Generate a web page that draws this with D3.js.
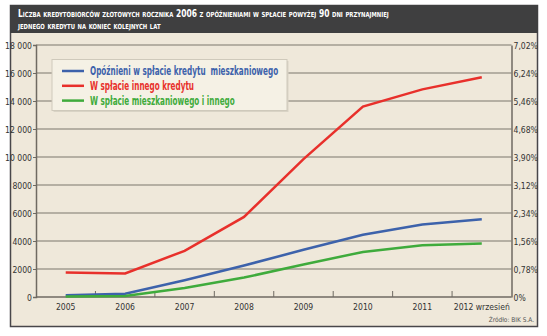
<!DOCTYPE html>
<html>
<head>
<meta charset="utf-8">
<script src="https://cdn.jsdelivr.net/npm/d3@7"></script>
<style>
  body { margin: 0; background: #fff; }
  text { font-family: "Liberation Sans Narrow", "DejaVu Sans Condensed", "Roboto Condensed", sans-serif; }
</style>
</head>
<body>
<div id="viz"></div>
<script>
// data
var years = ["2005", "2006", "2007", "2008", "2009", "2010", "2011", "2012 wrzesień"];
var opoznieniMieszk = [120, 240, 1200, 2250, 3370, 4450, 5180, 5560];
var splataInnego = [1750, 1680, 3300, 5720, 9850, 13600, 14830, 15700];
var mieszkIInnego = [30, 70, 650, 1390, 2320, 3220, 3700, 3820];

var leftTicks = [0, 2000, 4000, 6000, 8000, 10000, 12000, 14000, 16000, 18000];
var leftLabels = ["0", "2000", "4000", "6000", "8000", "10 000", "12 000", "14 000", "16 000", "18 000"];
var rightTicks = [0, 0.78, 1.56, 2.34, 3.12, 3.90, 4.68, 5.46, 6.24, 7.02];
var rightLabels = ["0%", "0,78%", "1,56%", "2,34%", "3,12%", "3,90%", "4,68%", "5,46%", "6,24%", "7,02%"];

var seriesNames = ["Opóźnieni w spłacie kredytu  mieszkaniowego", "W spłacie innego kredytu", "W spłacie mieszkaniowego i innego"];
var seriesColors = ["#3d62ab", "#e8302b", "#3fab3c"];

var width = 547, height = 336;
var plot = {left: 36, right: 511.5, top: 45, bottom: 297};

// squeeze a text horizontally (the original uses a condensed face)
function squeeze(sel, k) {
  sel.each(function() {
    var len = this.getComputedTextLength();
    d3.select(this)
      .attr("textLength", len * k)
      .attr("lengthAdjust", "spacingAndGlyphs");
  });
}

var svg = d3.select("#viz").append("svg")
    .attr("width", width)
    .attr("height", height);

// frame + header
svg.append("rect")
    .attr("x", 10.5).attr("y", 5.5)
    .attr("width", 527).attr("height", 321)
    .attr("fill", "#efe8da")
    .attr("stroke", "#48464a")
    .attr("stroke-width", 1.5);

svg.append("rect")
    .attr("x", 10).attr("y", 5)
    .attr("width", 528).attr("height", 28)
    .attr("fill", "#3f3f40");

var titleLines = ["Liczba kredytobiorców złotowych rocznika 2006 z opóźnieniami w spłacie powyżej 90 dni przynajmniej",
                  "jednego kredytu na koniec kolejnych lat"];
titleLines.forEach(function(t, i) {
  svg.append("text")
    .attr("x", 18).attr("y", 16.5 + i * 12)
    .attr("fill", "#fff")
    .style("font-variant", "small-caps")
    .style("font-weight", "bold")
    .style("font-size", "10px")
    .text(t)
    .call(squeeze, 0.84);
});

// scales
var xScale = d3.scaleBand()
    .domain(years)
    .range([plot.left, plot.right]);

var yScale = d3.scaleLinear()
    .domain([0, 18000])
    .range([plot.bottom, plot.top]);

var yRight = d3.scaleLinear()
    .domain([0, 7.02])
    .range([plot.bottom, plot.top]);

// grid
svg.append("g")
  .selectAll("line")
  .data(leftTicks.slice(1))
  .enter().append("line")
    .attr("x1", plot.left).attr("x2", plot.right)
    .attr("y1", function(d) { return yScale(d) })
    .attr("y2", function(d) { return yScale(d) })
    .attr("stroke", "#a29c90")
    .attr("stroke-width", 1.5);

// axes
var yAxisTicks = d3.axisLeft(yScale)
    .tickValues(leftTicks)
    .tickSize(3)
    .tickPadding(1)
    .tickFormat(function(d, i) { return leftLabels[i] });

var yGuide = svg.append("g")
    .attr("transform", "translate(" + plot.left + ",0)")
    .call(yAxisTicks);

var yRightTicks = d3.axisRight(yRight)
    .tickValues(rightTicks)
    .tickSize(0)
    .tickPadding(2)
    .tickFormat(function(d, i) { return rightLabels[i] });

var yRightGuide = svg.append("g")
    .attr("transform", "translate(" + plot.right + ",0)")
    .call(yRightTicks);

[yGuide, yRightGuide].forEach(function(g) {
  g.select(".domain").attr("stroke", "#6f6a62").attr("stroke-width", 1.5);
  g.selectAll(".tick line").attr("stroke", "#6f6a62");
  g.selectAll(".tick text")
    .attr("fill", "#333")
    .style("font-size", "9.5px")
    .call(squeeze, 0.9);
});

var xAxisTicks = d3.axisBottom(xScale)
    .tickSize(0)
    .tickPadding(6);

var xGuide = svg.append("g")
    .attr("transform", "translate(0," + plot.bottom + ")")
    .call(xAxisTicks);

xGuide.select(".domain").remove();
xGuide.selectAll(".tick text")
    .attr("fill", "#333")
    .style("font-size", "9.5px")
    .call(squeeze, 0.9);

// x baseline and inner ticks between categories
svg.append("line")
    .attr("x1", plot.left).attr("x2", plot.right)
    .attr("y1", plot.bottom).attr("y2", plot.bottom)
    .attr("stroke", "#6f6a62")
    .attr("stroke-width", 1.5);

svg.append("g")
  .selectAll("line")
  .data(years.slice(1))
  .enter().append("line")
    .attr("x1", function(d) { return xScale(d) })
    .attr("x2", function(d) { return xScale(d) })
    .attr("y1", plot.bottom)
    .attr("y2", plot.bottom - 6)
    .attr("stroke", "#6f6a62")
    .attr("stroke-width", 1);

// lines
var lineFunc = d3.line()
  .x(function(d, i) { return xScale(years[i]) + xScale.bandwidth() / 2 })
  .y(function(d) { return yScale(d) });

[opoznieniMieszk, splataInnego, mieszkIInnego].forEach(function(s, i) {
  svg.append("path")
    .attr("d", lineFunc(s))
    .attr("fill", "none")
    .attr("stroke", seriesColors[i])
    .attr("stroke-width", 2.5);
});

// legend
var legend = svg.append("g").attr("transform", "translate(52,59.5)");

legend.append("rect")
    .attr("x", 1.5).attr("y", 1.5)
    .attr("width", 235).attr("height", 51)
    .attr("fill", "#d9d3c5");

legend.append("rect")
    .attr("width", 235).attr("height", 51)
    .attr("fill", "#f5f1e5")
    .attr("stroke", "#cfc9bb");

seriesNames.forEach(function(name, i) {
  var y = 11.5 + i * 14.8;
  legend.append("line")
    .attr("x1", 10).attr("x2", 32)
    .attr("y1", y).attr("y2", y)
    .attr("stroke", seriesColors[i])
    .attr("stroke-width", 2.5);
  legend.append("text")
    .attr("x", 38).attr("y", y + 4)
    .attr("fill", seriesColors[i])
    .style("font-size", "11.5px")
    .style("font-weight", "bold")
    .style("white-space", "pre")
    .text(name)
    .call(squeeze, 0.7);
});

// source
svg.append("text")
    .attr("x", 534).attr("y", 322)
    .attr("text-anchor", "end")
    .attr("fill", "#555")
    .style("font-size", "6.5px")
    .text("Źródło: BIK S.A.");
</script>
</body>
</html>
